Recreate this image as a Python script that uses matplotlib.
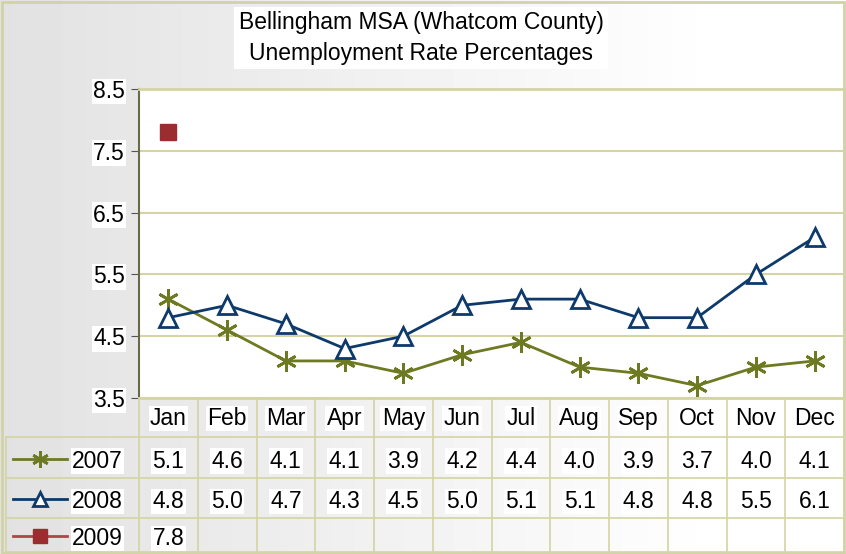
import matplotlib.pyplot as plt
import matplotlib.transforms as mtrans
import numpy as np

months = ['Jan', 'Feb', 'Mar', 'Apr', 'May', 'Jun', 'Jul', 'Aug', 'Sep', 'Oct', 'Nov', 'Dec']
years = ['2007', '2008', '2009']
rate_2007 = [5.1, 4.6, 4.1, 4.1, 3.9, 4.2, 4.4, 4.0, 3.9, 3.7, 4.0, 4.1]
rate_2008 = [4.8, 5.0, 4.7, 4.3, 4.5, 5.0, 5.1, 5.1, 4.8, 4.8, 5.5, 6.1]
rate_2009 = [7.8]
yticks = [3.5, 4.5, 5.5, 6.5, 7.5, 8.5]

plt.rcParams['font.family'] = ['Liberation Sans', 'DejaVu Sans']
FS = 16.5

W, H = 846, 554
fig = plt.figure(figsize=(W / 100, H / 100), dpi=100)

# gradient background (grey on the left fading to white)
bg = fig.add_axes([0, 0, 1, 1], zorder=-10)
grad = np.clip(np.linspace(0.885, 1.02, 256), 0, 1)
bg.imshow(np.tile(grad, (10, 1)), cmap='gray', vmin=0, vmax=1, aspect='auto', extent=[0, 1, 0, 1])
bg.set_xlim(0, 1)
bg.set_ylim(0, 1)
bg.axis('off')
fig.patches.append(plt.Rectangle((0.002, 0.002), 0.996, 0.994, transform=fig.transFigure,
                                 fill=False, ec='#d2d2a8', lw=2))

grid_c = '#d4d4a4'
c07, c08, c09 = '#6e7a22', '#0d3a6b', '#9b2c30'

left, right, top, bottom = 139, 844, 89, 398
ax = fig.add_axes([left / W, 1 - bottom / H, (right - left) / W, (bottom - top) / H])
ax.set_facecolor('white')
x = np.arange(len(months))
ax.plot(x, rate_2007, color=c07, lw=2, marker=(6, 2, 0), ms=15, mew=2, zorder=3)
ax.plot(x, rate_2008, color=c08, lw=2, marker='^', ms=13, mew=2, mfc='white', zorder=3)
ax.plot(x[:len(rate_2009)], rate_2009, color=c09, lw=2, marker='s', ms=12, zorder=4, ls='none')

ax.set_xlim(-0.5, len(months) - 0.5)
ax.set_ylim(3.5, 8.5)
ax.set_yticks(yticks)
ax.set_yticklabels([f'{v:.1f}' for v in yticks], fontsize=FS,
                   bbox=dict(fc='white', ec='none', pad=1))
ax.set_xticks([])
ax.tick_params(axis='y', length=6, color='#555555', pad=4)
ax.grid(axis='y', color=grid_c, lw=1.5)
for s in ['top', 'right', 'bottom']:
    ax.spines[s].set_color(grid_c)
    ax.spines[s].set_linewidth(2)
ax.spines['left'].set_color('#6a6a4a')
ax.spines['left'].set_linewidth(1.5)

# title
fig.text(421 / W, 1 - 38 / H, 'Bellingham MSA (Whatcom County)\nUnemployment Rate Percentages',
         ha='center', va='center', fontsize=FS, linespacing=1.4,
         bbox=dict(fc='white', ec='none', pad=3))

# data table below the axes
row_edges = [398, 437, 478, 518, 552]
tr = mtrans.blended_transform_factory(ax.transData, fig.transFigure)
def fy(py):
    return 1 - py / H

table_lines = dict(color=grid_c, lw=1.2, transform=fig.transFigure, clip_on=False)
for py in row_edges[1:]:
    fig.add_artist(plt.Line2D([6 / W, right / W], [fy(py), fy(py)], **table_lines))
fig.add_artist(plt.Line2D([6 / W, 6 / W], [fy(row_edges[1]), fy(row_edges[-1])], **table_lines))
for i in range(len(months) + 1):
    xx = i - 0.5
    fig.add_artist(plt.Line2D([xx, xx], [fy(row_edges[0]), fy(row_edges[-1])],
                              color=grid_c, lw=1.2, transform=tr, clip_on=False))

def cy(r, off=0):
    return fy((row_edges[r] + row_edges[r + 1]) / 2 + off)

for i, m in enumerate(months):
    fig.text(i, cy(0, 1), m, transform=tr, ha='center', va='center', fontsize=FS,
             bbox=dict(fc='white', ec='none', pad=1))

rows = [rate_2007, rate_2008, rate_2009]
line_cols = [c07, c08, '#b04448']
styles = [dict(color=c07, marker=(6, 2, 0), ms=12, mew=2),
          dict(color=c08, marker='^', ms=10, mew=2, mfc='white'),
          dict(color=c09, marker='s', ms=10)]
for r, (yr, vals, st, lc) in enumerate(zip(years, rows, styles, line_cols)):
    y_mark = cy(r + 1, 1)
    y = cy(r + 1, 3.5)
    fig.add_artist(plt.Line2D([13 / W, 67 / W], [y_mark, y_mark], lw=2, color=lc,
                              transform=fig.transFigure))
    fig.add_artist(plt.Line2D([40 / W], [y_mark], lw=0, transform=fig.transFigure, **st))
    fig.text(72 / W, y, yr, ha='left', va='center', fontsize=FS,
             bbox=dict(fc='white', ec='none', pad=1))
    for i, v in enumerate(vals):
        fig.text(i, y, f'{v:.1f}', transform=tr, ha='center', va='center', fontsize=FS,
                 bbox=dict(fc='white', ec='none', pad=1))

fig.savefig('out.png', dpi=100)
